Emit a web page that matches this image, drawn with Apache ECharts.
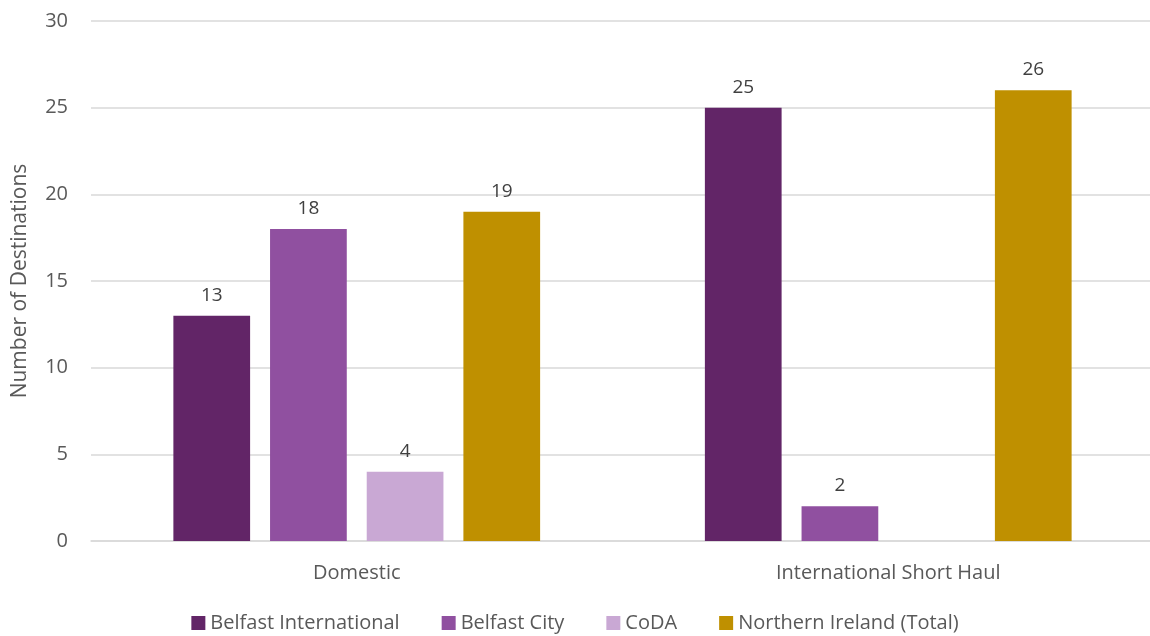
<!DOCTYPE html>
<html>
<head>
<meta charset="utf-8">
<script src="https://cdn.jsdelivr.net/npm/echarts@6/dist/echarts.min.js"></script>
<style>
  html, body { margin: 0; padding: 0; background: #fff; }
  #chart { width: 1150px; height: 636px; }
</style>
</head>
<body>
<div id="chart"></div>
<script>
// data
var categories = ['Domestic', 'International Short Haul'];
var seriesNames = ['Belfast International', 'Belfast City', 'CoDA', 'Northern Ireland (Total)'];
var belfastIntl = [13, 25];
var belfastCity = [18, 2];
var coda = [4, null];
var niTotal = [19, 26];
var colors = ['#622567', '#9050a0', '#c9a8d4', '#bf9000'];

var myCharts = echarts.init(document.getElementById('chart'));
var fontFamily = '"Open Sans", sans-serif';

function makeSeries(name, data, color) {
    return {
        name: name,
        type: 'bar',
        data: data,
        barGap: '26%',
        barCategoryGap: '31%',
        itemStyle: { color: color },
        label: {
            show: true,
            position: 'top',
            distance: 11,
            color: '#404040',
            fontSize: 19,
            fontFamily: fontFamily
        }
    };
}

var option = {
    animation: false,
    color: colors,
    grid: { left: 91, right: -4, top: 21, bottom: 95, outerBoundsMode: 'none', containLabel: false },
    legend: {
        bottom: -2,
        left: 'center',
        itemWidth: 14,
        itemHeight: 14,
        itemGap: 42,
        icon: 'rect',
        textStyle: { color: '#595959', fontSize: 20, fontFamily: fontFamily },
        data: seriesNames
    },
    xAxis: {
        type: 'category',
        data: categories,
        axisTick: { show: false },
        axisLine: { lineStyle: { color: '#d9d9d9', width: 1.5 } },
        axisLabel: { color: '#595959', fontSize: 20, fontFamily: fontFamily, margin: 22 }
    },
    yAxis: {
        type: 'value',
        min: 0,
        max: 30,
        interval: 5,
        name: 'Number of Destinations',
        nameLocation: 'middle',
        nameGap: 60,
        nameTextStyle: { color: '#595959', fontSize: 21, fontFamily: fontFamily },
        axisLine: { show: false },
        axisTick: { show: false },
        axisLabel: { color: '#595959', fontSize: 20, fontFamily: fontFamily, margin: 23 },
        splitLine: { lineStyle: { color: '#d9d9d9', width: 1.5 } }
    },
    series: [
        makeSeries(seriesNames[0], belfastIntl, colors[0]),
        makeSeries(seriesNames[1], belfastCity, colors[1]),
        makeSeries(seriesNames[2], coda, colors[2]),
        makeSeries(seriesNames[3], niTotal, colors[3])
    ]
};
myCharts.setOption(option);
</script>
</body>
</html>
